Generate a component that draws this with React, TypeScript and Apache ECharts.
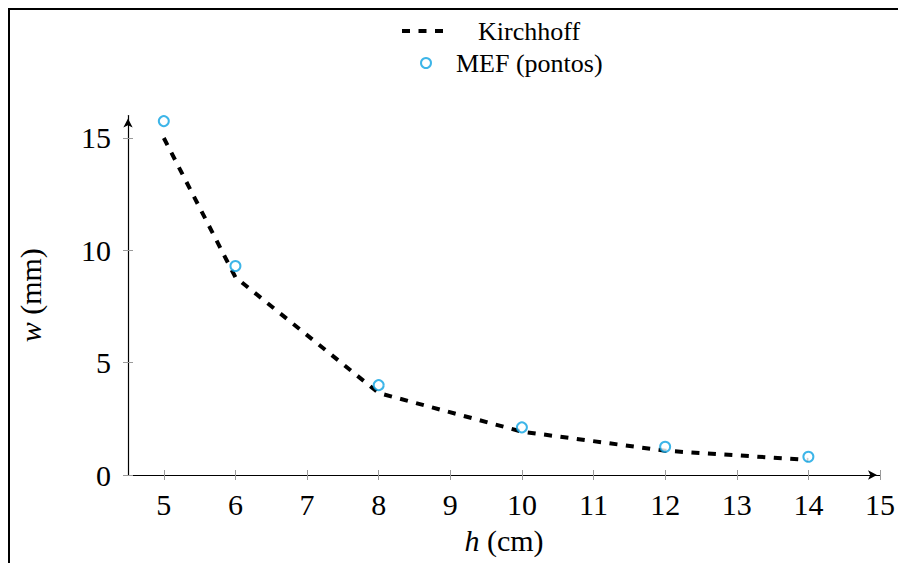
import React, { useEffect, useRef } from "react";
import * as echarts from "echarts";

const hValues = [5, 6, 8, 10, 12, 14];
const kirchhoff = [15.0, 8.8, 3.65, 1.93, 1.08, 0.67];
const mef = [15.75, 9.3, 4.0, 2.12, 1.26, 0.81];
const xTicks = [5, 6, 7, 8, 9, 10, 11, 12, 13, 14, 15];
const yTicks = [0, 5, 10, 15];

const FONT = '"Liberation Serif", "Times New Roman", serif';
const TICK_GRAY = "#9a9a9a";
const MEF_COLOR = "#0DA2E2";

export default function App() {
  const ref = useRef<HTMLDivElement>(null);

  useEffect(() => {
    if (!ref.current) return;
    const chart = echarts.init(ref.current, undefined, { renderer: "svg" });
    const nameStyle = {
      fontFamily: FONT,
      fontSize: 30,
      color: "#000",
      rich: {
        it: { fontFamily: FONT, fontSize: 30, fontStyle: "italic", color: "#000" },
        n: { fontFamily: FONT, fontSize: 30, color: "#000" },
      },
    };
    chart.setOption({
      animation: false,
      backgroundColor: "#fff",
      grid: { left: 118, right: 26, top: 105.5, bottom: 88, outerBoundsMode: "none" },
      legend: [
        {
          data: ["Kirchhoff"],
          left: 390,
          top: 8,
          padding: 0,
          itemWidth: 42,
          itemHeight: 14,
          selectedMode: false,
          itemStyle: { color: "transparent", borderColor: "transparent", borderWidth: 0, opacity: 0 },
          lineStyle: { color: "#000", width: 4, type: [8, 8.5], cap: "butt" },
          textStyle: { fontFamily: FONT, fontSize: 26, color: "#000", padding: [0, 0, 0, 29] },
        },
        {
          data: ["MEF (pontos)"],
          left: 410,
          top: 40,
          padding: 0,
          itemWidth: 10,
          itemHeight: 10,
          selectedMode: false,
          textStyle: { fontFamily: FONT, fontSize: 26, color: "#000", padding: [0, 0, 0, 20] },
        },
      ],
      xAxis: [
        {
          type: "value",
          min: 4.5,
          max: 15,
          position: "bottom",
          axisLine: {
            show: true,
            onZero: false,
            lineStyle: { color: "#000", width: 1.2 },
            symbol: ["none", "arrow"],
            symbolSize: [7, 9],
            symbolOffset: [0, -3],
          },
          axisTick: { show: true, customValues: xTicks, length: 5, lineStyle: { color: TICK_GRAY, width: 1 } },
          axisLabel: { customValues: xTicks, margin: 14, fontFamily: FONT, fontSize: 30, color: "#000" },
          splitLine: { show: false },
          name: "{it|h}{n| (cm)}",
          nameLocation: "middle",
          nameGap: 50,
          nameTextStyle: nameStyle,
        },
        {
          type: "value",
          min: 4.5,
          max: 15,
          position: "bottom",
          axisLine: { show: false },
          axisTick: { show: true, inside: true, customValues: xTicks, length: 5, lineStyle: { color: TICK_GRAY, width: 1 } },
          axisLabel: { show: false },
          splitLine: { show: false },
        },
      ],
      yAxis: [
        {
          type: "value",
          min: 0,
          max: 16,
          position: "left",
          axisLine: {
            show: true,
            onZero: false,
            lineStyle: { color: "#000", width: 1.2 },
            symbol: ["none", "arrow"],
            symbolSize: [7, 9],
            symbolOffset: [0, -3],
          },
          axisTick: { show: true, customValues: yTicks, length: 5, lineStyle: { color: TICK_GRAY, width: 1 } },
          axisLabel: { customValues: yTicks, margin: 17, fontFamily: FONT, fontSize: 30, color: "#000" },
          splitLine: { show: false },
          name: "{it|w}{n| (mm)}",
          nameLocation: "middle",
          nameGap: 83,
          nameTextStyle: nameStyle,
        },
        {
          type: "value",
          min: 0,
          max: 16,
          position: "left",
          axisLine: { show: false },
          axisTick: { show: true, inside: true, customValues: yTicks, length: 5, lineStyle: { color: TICK_GRAY, width: 1 } },
          axisLabel: { show: false },
          splitLine: { show: false },
        },
      ],
      series: [
        {
          name: "Kirchhoff",
          type: "line",
          xAxisIndex: 0,
          yAxisIndex: 0,
          data: hValues.map((h, i) => [h, kirchhoff[i]]),
          symbol: "none",
          lineStyle: { color: "#000", width: 4, type: [8, 8.5], cap: "butt" },
          itemStyle: { color: "#000" },
          z: 2,
        },
        {
          name: "MEF (pontos)",
          type: "scatter",
          xAxisIndex: 0,
          yAxisIndex: 0,
          data: hValues.map((h, i) => [h, mef[i]]),
          symbol: "emptyCircle",
          symbolSize: 10,
          itemStyle: { color: MEF_COLOR, borderWidth: 2 },
          z: 3,
        },
      ],
    });
    return () => chart.dispose();
  }, []);

  return (
    <div style={{ width: 896, height: 553, borderTop: "2px solid #000", borderLeft: "2px solid #000", background: "#fff" }}>
      <div ref={ref} style={{ width: 896, height: 553 }} />
    </div>
  );
}
